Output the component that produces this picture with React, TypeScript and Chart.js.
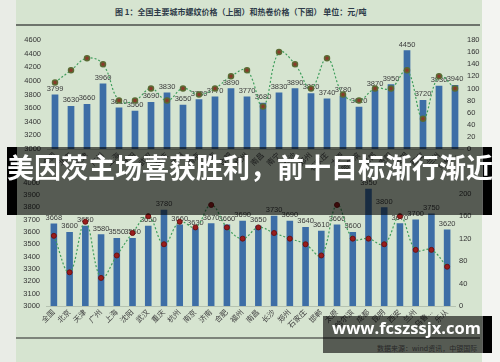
import React, { useEffect, useRef } from "react";
import { Chart, registerables } from "chart.js";
Chart.register(...registerables);

// ---------- data ----------
const rebarCities = ["全国", "北京", "天津", "广州", "上海", "沈阳", "武汉", "重庆", "杭州", "南京", "济南", "合肥", "福州", "南昌", "南宁", "长沙", "郑州", "石家庄", "太原", "哈尔滨", "成都", "贵阳", "昆明", "西安", "兰州", "乌鲁..."];
const rebarPrices = [3799, 3630, 3660, 3960, 3610, 3560, 3690, 3830, 3650, 3730, 3770, 3890, 3770, 3680, 3830, 3890, 3820, 3740, 3780, 3620, 3870, 3950, 4450, 3720, 3930, 3940];
const rebarLine = [110, 130, 150, 140, 80, 80, 100, 80, 100, 90, 100, 120, 130, 70, 160, 140, 100, 150, 90, 80, 100, 100, 130, 50, 120, 100];

const coilCities = ["全国", "北京", "天津", "广州", "上海", "沈阳", "武汉", "重庆", "杭州", "南京", "济南", "合肥", "福州", "南昌", "长沙", "郑州", "石家庄", "邯郸", "太原", "哈尔滨", "成都", "昆明", "西安", "兰州", "乌鲁...", "乐从"];
const coilPrices = [3668, 3600, 3650, 3580, 3550, 3550, 3650, 3780, 3660, 3630, 3670, 3660, 3690, 3650, 3730, 3690, 3640, 3610, 3660, 3600, 3950, 3800, 3670, 3700, 3750, 3620];
const coilLine = [125, 60, 150, 50, 90, 130, 160, 110, 150, 140, 180, 140, 120, 140, 130, 120, 110, 90, 180, 120, 120, 110, 160, 100, 100, 70];

const rebarLeftTicks = [3000, 4600, 200];
const rebarRightTicks = [0, 180, 20];
const coilLeftTicks = [3000, 4000, 100];
const coilRightTicks = [0, 220, 20];

const titleText = "图 1：全国主要城市螺纹价格（上图）和热卷价格（下图）    单位：元/吨";
const bannerText = "美因茨主场喜获胜利，前十目标渐行渐近";
const watermarkText = "www.fcszssjx.com";
const sourceText = "数据来源：wind资讯，中银国际";

// ---------- helpers ----------
const barLabelPlugin = {
  id: "barLabels",
  afterDatasetDraw(chart: any, args: any) {
    const ds = chart.data.datasets[args.index];
    if (ds.type !== "bar") return;
    const ctx = chart.ctx;
    ctx.save();
    ctx.font = '7.5px "Liberation Sans", "Noto Sans", sans-serif';
    ctx.fillStyle = "#3c3c3c";
    ctx.textAlign = "center";
    ctx.textBaseline = "bottom";
    args.meta.data.forEach((el: any, i: number) => {
      ctx.fillText(String(ds.data[i]), el.x, el.y - 2);
    });
    ctx.restore();
  },
};

const tickFont = { family: '"Liberation Sans", "Noto Sans CJK SC", sans-serif', size: 7.5 };
const plain = (v: any) => String(v);

function buildConfig(opts: any) {
  const { labels, bars, line, left, right, leftW, rightW, xH, padTop, markerBg, markerBorder, markerBW, markerR } = opts;
  return {
    type: "bar",
    data: {
      labels,
      datasets: [
        {
          type: "line",
          data: line,
          yAxisID: "y1",
          order: 0,
          borderColor: "#3f9e5c",
          borderWidth: 1.2,
          borderDash: [2, 2],
          tension: 0.4,
          pointRadius: markerR,
          pointBackgroundColor: markerBg,
          pointBorderColor: markerBorder,
          pointBorderWidth: markerBW,
          clip: false,
          fill: false,
        },
        {
          type: "bar",
          data: bars,
          yAxisID: "y",
          order: 1,
          backgroundColor: "#3d6ea6",
          barPercentage: 0.42,
          categoryPercentage: 1,
        },
      ],
    },
    options: {
      responsive: false,
      animation: false,
      devicePixelRatio: 1,
      layout: { padding: { top: padTop, left: 0, right: 0, bottom: 0 } },
      plugins: { legend: { display: false }, tooltip: { enabled: false } },
      scales: {
        x: {
          grid: { display: false, drawTicks: false },
          border: { display: true, color: "#b5c2b0" },
          ticks: { font: tickFont, color: "#444", maxRotation: 45, minRotation: 45, autoSkip: false, padding: 2 },
          afterFit: (s: any) => { s.height = xH; },
        },
        y: {
          position: "left",
          min: left[0],
          max: left[1],
          grid: { display: false, drawTicks: false },
          border: { display: false },
          ticks: { stepSize: left[2], font: tickFont, color: "#333", padding: 6, callback: plain },
          afterFit: (s: any) => { s.width = leftW; },
        },
        y1: {
          position: "right",
          min: right[0],
          max: right[1],
          grid: { display: false, drawTicks: false },
          border: { display: false },
          ticks: { stepSize: right[2], font: tickFont, color: "#333", padding: 4, callback: plain },
          afterFit: (s: any) => { s.width = rightW; },
        },
      },
    },
    plugins: [barLabelPlugin],
  } as any;
}

function ChartCanvas(props: any) {
  const ref = useRef<HTMLCanvasElement | null>(null);
  useEffect(() => {
    if (!ref.current) return;
    const chart = new Chart(ref.current, buildConfig(props.cfg));
    return () => chart.destroy();
  }, []);
  return (
    <canvas
      ref={ref}
      width={props.w}
      height={props.h}
      style={{ position: "absolute", left: props.x, top: props.y, width: props.w, height: props.h }}
    />
  );
}

export default function App() {
  useEffect(() => {
    document.body.style.margin = "0";
  }, []);
  return (
    <div style={{ position: "absolute", left: 0, top: 0, width: 500, height: 362, overflow: "hidden", background: "#f3f4f1" }}>
      <div style={{ position: "absolute", left: 0, top: 0, width: 16, height: 362, background: "#e9ece6" }} />
      <div style={{ position: "absolute", left: 16, top: 0, width: 466, height: 362, background: "#d6e4d0" }} />
      <div
        style={{
          position: "absolute", left: 115, top: 5, whiteSpace: "nowrap",
          font: '700 8px "Noto Sans CJK SC", sans-serif', color: "#2d3a48", lineHeight: "14px",
        }}
      >
        {titleText}
      </div>
      <div style={{ position: "absolute", left: 16, top: 24, width: 464, height: 2, background: "#6e746c" }} />
      <div style={{ position: "absolute", left: 16, top: 337, width: 464, height: 2, background: "#7d847a" }} />

      <ChartCanvas
        x={16} y={28} w={466} h={144}
        cfg={{
          labels: rebarCities, bars: rebarPrices, line: rebarLine,
          left: rebarLeftTicks, right: rebarRightTicks,
          leftW: 31, rightW: 19, xH: 23, padTop: 12,
          markerBg: "#8a3a2a", markerBorder: "#5a6a33", markerBW: 1.5, markerR: 2.5,
        }}
      />
      <ChartCanvas
        x={16} y={172} w={466} h={162}
        cfg={{
          labels: coilCities, bars: coilPrices, line: coilLine,
          left: coilLeftTicks, right: coilRightTicks,
          leftW: 30, rightW: 27, xH: 28, padTop: 8,
          markerBg: "#9a1c1c", markerBorder: "#6e1212", markerBW: 1, markerR: 2.5,
        }}
      />

      {/* source note */}
      <div
        style={{
          position: "absolute", left: 377, top: 343, whiteSpace: "nowrap",
          font: '7px "Noto Sans CJK SC", sans-serif', color: "#666",
        }}
      >
        {sourceText}
      </div>

      {/* banner */}
      <div style={{ position: "absolute", left: 7, top: 147, width: 10, height: 68, background: "#000" }} />
      <div style={{ position: "absolute", left: 483, top: 147, width: 9, height: 68, background: "#000" }} />
      <div style={{ position: "absolute", left: 17, top: 147, width: 466, height: 68, background: "rgba(0,0,0,0.6)" }} />
      <div
        style={{
          position: "absolute", left: 0, top: 147, width: 500, height: 68, lineHeight: "68px",
          textAlign: "center", whiteSpace: "nowrap", color: "#fff",
          font: '700 27px "Noto Sans CJK SC", sans-serif',
        }}
      >
        {bannerText}
      </div>

      {/* watermark */}
      <div style={{ position: "absolute", left: 483, top: 316, width: 9, height: 37, background: "#000" }} />
      <div style={{ position: "absolute", left: 323, top: 316, width: 160, height: 37, background: "rgba(0,0,0,0.6)" }} />
      <div
        style={{
          position: "absolute", left: 331, top: 316, width: 151, height: 37, lineHeight: "37px",
          textAlign: "center", whiteSpace: "nowrap", color: "#fff",
          font: '700 16.5px "Open Sans", sans-serif',
        }}
      >
        {watermarkText}
      </div>
    </div>
  );
}
